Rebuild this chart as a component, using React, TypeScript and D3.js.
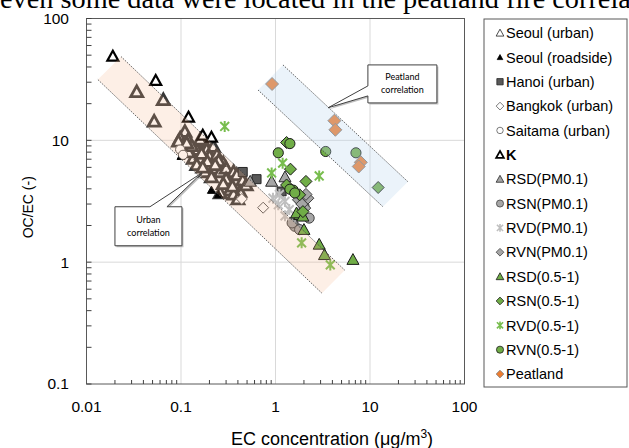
import React from 'react';
import * as d3 from 'd3';

// EC concentration (ug/m3) vs OC/EC ratio, one array per series
const seoulUrban: [number, number][] = [
  [0.034, 25], [0.065, 21.5], [0.052, 14.3],
  [0.110, 11.8], [0.098, 10.4], [0.119, 10.1], [0.106, 9.2], [0.094, 9.8], [0.172, 9.8],
  [0.147, 8.4], [0.187, 8.4], [0.22, 8.9], [0.135, 7.1], [0.159, 7.1], [0.2, 7.4],
  [0.24, 7.6], [0.28, 6.5], [0.147, 6.3], [0.187, 6.1], [0.22, 5.9], [0.18, 5.5],
  [0.26, 5.5], [0.30, 5.9], [0.21, 5.0], [0.36, 5.5], [0.39, 5.2], [0.45, 4.7],
  [0.33, 3.9], [0.42, 3.8], [0.36, 3.6], [0.26, 3.7], [0.49, 4.3], [0.12, 8.0],
  [0.13, 9.0], [0.165, 7.8], [0.19, 6.7], [0.25, 6.8], [0.3, 4.8], [0.28, 4.4],
  [0.35, 4.2], [0.4, 3.3], [0.23, 6.3], [0.17, 6.0], [0.115, 9.5], [0.16, 10.2],
];
const seoulRoadside: [number, number][] = [[0.21, 3.9], [0.25, 3.6], [0.1, 7.4]];
const hanoi: [number, number][] = [[0.45, 5.5], [0.63, 4.8], [1.16, 3.8]];
const bangkok: [number, number][] = [[0.44, 3.3], [0.74, 2.8]];
const saitama: [number, number][] = [[0.098, 8.4], [0.105, 7.6]];
const kSeries: [number, number][] = [[0.019, 49], [0.054, 31], [0.12, 15.5], [0.17, 11], [0.21, 10.6]];
const rsdPm01: [number, number][] = [[0.91, 4.6], [1.26, 5.0], [0.54, 4.6]];
const rsnPm01: [number, number][] = [[2.27, 2.3], [1.6, 1.97], [1.8, 1.85], [1.8, 3.25], [2.0, 2.9], [1.5, 2.1]];
const rvdPm01: [number, number][] = [[0.94, 3.35], [1.26, 3.15], [1.26, 2.4], [1.07, 2.96], [1.4, 2.7], [1.1, 3.6]];
const rvnPm01: [number, number][] = [[1.75, 3.25], [2.2, 3.35], [2.04, 2.78], [1.9, 3.0], [2.1, 3.6]];
const rsd051: [number, number][] = [[1.8, 2.45], [2.0, 1.85], [2.9, 1.4], [3.3, 1.15], [6.6, 1.05], [1.67, 2.53], [1.95, 2.38]];
const rsn051: [number, number][] = [[1.31, 9.6], [1.44, 5.8], [2.1, 4.6], [1.31, 4.3], [1.8, 3.57], [1.95, 2.6], [12.2, 4.1]];
const rvd051: [number, number][] = [[0.29, 13], [1.19, 6.5], [0.91, 5.4], [2.9, 5.1], [1.89, 1.44], [3.8, 0.95]];
const rvn051: [number, number][] = [[1.42, 9.4], [1.07, 7.9], [1.54, 3.9], [1.42, 3.97], [1.6, 3.7], [3.4, 8.1], [7.1, 7.9]];
const peatland: [number, number][] = [[0.92, 29], [4.2, 14.5], [4.3, 12.2], [8.0, 6.6], [7.6, 6.1]];

const xTicks = [0.01, 0.1, 1, 10, 100];
const yTicks = [0.1, 1, 10, 100];
const xTickLabels = ['0.01', '0.1', '1', '10', '100'];
const yTickLabels = ['0.1', '1', '10', '100'];

// correlation bands (corners in data units)
const urbanBand: [number, number][] = [[0.0232, 48.7], [5.4, 0.86], [3.1, 0.556], [0.0132, 31.5]];
const peatBand: [number, number][] = [[1.2, 41.6], [25.2, 4.57], [13.7, 2.85], [0.653, 25.9]];

type Shape = 'tri' | 'circle' | 'diamond' | 'square' | 'star';
interface Series {
  name: string; data: [number, number][]; shape: Shape; fill: string; stroke: string; sw: number; size: number; legSw?: number;
}

const series: Series[] = [
  { name: 'Seoul (urban)', data: seoulUrban, shape: 'tri', fill: '#fff', stroke: '#383838', sw: 2.8, size: 12, legSw: 0.9 },
  { name: 'Seoul (roadside)', data: seoulRoadside, shape: 'tri', fill: '#000', stroke: '#000', sw: 1, size: 8 },
  { name: 'Hanoi (urban)', data: hanoi, shape: 'square', fill: '#595959', stroke: '#262626', sw: 1, size: 9 },
  { name: 'Bangkok (urban)', data: bangkok, shape: 'diamond', fill: '#fff', stroke: '#595959', sw: 1, size: 11 },
  { name: 'Saitama (urban)', data: saitama, shape: 'circle', fill: '#fff', stroke: '#595959', sw: 1, size: 10 },
  { name: 'K', data: kSeries, shape: 'tri', fill: '#fff', stroke: '#000', sw: 2.2, size: 11 },
  { name: 'RSD(PM0.1)', data: rsdPm01, shape: 'tri', fill: '#a6a6a6', stroke: '#262626', sw: 1, size: 12 },
  { name: 'RSN(PM0.1)', data: rsnPm01, shape: 'circle', fill: '#a6a6a6', stroke: '#404040', sw: 1, size: 11 },
  { name: 'RVD(PM0.1)', data: rvdPm01, shape: 'star', fill: 'none', stroke: '#bfbfbf', sw: 2, size: 11 },
  { name: 'RVN(PM0.1)', data: rvnPm01, shape: 'diamond', fill: '#a6a6a6', stroke: '#404040', sw: 1, size: 12 },
  { name: 'RSD(0.5-1)', data: rsd051, shape: 'tri', fill: '#70ad47', stroke: '#1a1a1a', sw: 1, size: 12 },
  { name: 'RSN(0.5-1)', data: rsn051, shape: 'diamond', fill: '#70ad47', stroke: '#1a1a1a', sw: 1, size: 12 },
  { name: 'RVD(0.5-1)', data: rvd051, shape: 'star', fill: 'none', stroke: '#78bd4e', sw: 2, size: 11 },
  { name: 'RVN(0.5-1)', data: rvn051, shape: 'circle', fill: '#70ad47', stroke: '#1a1a1a', sw: 1, size: 11 },
  { name: 'Peatland', data: peatland, shape: 'diamond', fill: '#ed7d31', stroke: '#7f7f7f', sw: 1, size: 13 },
];

function markerPath(shape: Shape, s: number): string {
  const h = s / 2;
  switch (shape) {
    case 'tri': return `M0,${-h}L${h},${h * 0.8}L${-h},${h * 0.8}Z`;
    case 'square': return `M${-h},${-h}H${h}V${h}H${-h}Z`;
    case 'diamond': return `M0,${-h}L${h},0L0,${h}L${-h},0Z`;
    case 'circle': return d3.symbol(d3.symbolCircle, Math.PI * h * h * 0.85)() || '';
    case 'star': {
      const a = h * 0.8;
      return `M${-a},${-a}L${a},${a}M${-a},${a}L${a},${-a}M0,${-h}L0,${h}`;
    }
  }
}

const W = 629;
const H = 448;
const x = d3.scaleLog().domain([0.01, 100]).range([86.5, 464.5]);
const y = d3.scaleLog().domain([0.1, 100]).range([384, 18.5]);

const Marker: React.FC<{ s: Series; cx: number; cy: number; legend?: boolean }> = ({ s, cx, cy, legend }) => (
  <path
    d={markerPath(s.shape, legend ? Math.min(s.size, 11) * 0.7 : s.size)}
    transform={`translate(${cx},${cy})`}
    fill={s.fill}
    stroke={s.stroke}
    strokeWidth={legend ? (s.legSw ?? s.sw * 0.8) : s.sw}
  />
);

function Band({ pts, fill, op }: { pts: [number, number][]; fill: string; op: number }) {
  const p = pts.map(([a, b]) => [x(a), y(b)]);
  return (
    <g>
      <polygon points={p.map((q) => q.join(',')).join(' ')} fill={fill} fillOpacity={op} stroke="none" />
      <line x1={p[0][0]} y1={p[0][1]} x2={p[1][0]} y2={p[1][1]} stroke="#404040" strokeWidth={0.8} strokeDasharray="1.5,1.2" />
      <line x1={p[3][0]} y1={p[3][1]} x2={p[2][0]} y2={p[2][1]} stroke="#404040" strokeWidth={0.8} strokeDasharray="1.5,1.2" />
    </g>
  );
}

export default function App() {
  const left = x.range()[0];
  const right = x.range()[1];
  const top = y.range()[1];
  const bottom = y.range()[0];

  const minorX: number[] = [];
  for (let d = 0.01; d < 100; d *= 10) for (let k = 2; k <= 9; k++) minorX.push(d * k);
  const minorY: number[] = [];
  for (let d = 0.1; d < 100; d *= 10) for (let k = 2; k <= 9; k++) minorY.push(d * k);

  // urban callout
  const ubx = x(0.02), uby = y(2.85), ubw = 67, ubh = 39;
  const utx = x(0.166), uty = y(5.4);
  const urbanPath = `M${ubx},${uby}L${ubx + 35},${uby}L${utx},${uty}L${ubx + 52},${uby}L${ubx + ubw},${uby}L${ubx + ubw},${uby + ubh}L${ubx},${uby + ubh}Z`;
  // peatland callout
  const pbx = x(9.5), pby = y(41.6), pbw = 69, pbh = 38;
  const ptx = x(3.6), pty = y(18.5);
  const peatPath = `M${pbx},${pby}L${pbx + pbw},${pby}L${pbx + pbw},${pby + pbh}L${pbx},${pby + pbh}L${pbx},${pby + 31}L${ptx},${pty}L${pbx},${pby + 21}Z`;

  const legX = 484, legY = 19, legW = 143, legH = 368;

  return (
    <svg width={W} height={H} style={{ position: 'absolute', left: 0, top: 0, background: '#fff' }} fontFamily="'Liberation Sans', Arial, sans-serif">
      <text x={0} y={8} fontFamily="'Liberation Serif', serif" fontSize={28.3} fill="#000">even some data were located in the peatland fire correlation</text>

      {/* gridlines */}
      {xTicks.slice(1, -1).map((t) => (
        <line key={`gx${t}`} x1={x(t)} x2={x(t)} y1={top} y2={bottom} stroke="#d9d9d9" strokeWidth={1} />
      ))}
      {yTicks.slice(1, -1).map((t) => (
        <line key={`gy${t}`} x1={left} x2={right} y1={y(t)} y2={y(t)} stroke="#d9d9d9" strokeWidth={1} />
      ))}

      {/* points */}
      {series.map((s) => (
        <g key={s.name}>
          {s.data.map(([a, b], i) => (
            <Marker key={i} s={s} cx={x(a)} cy={y(b)} />
          ))}
        </g>
      ))}

      {/* correlation bands drawn over points */}
      <Band pts={urbanBand} fill="#f4b183" op={0.2} />
      <Band pts={peatBand} fill="#bdd7ee" op={0.3} />

      {/* frame, ticks */}
      <rect x={left} y={top} width={right - left} height={bottom - top} fill="none" stroke="#595959" strokeWidth={1} />
      {minorX.map((t) => (
        <line key={`mx${t}`} x1={x(t)} x2={x(t)} y1={bottom} y2={bottom - 4} stroke="#404040" />
      ))}
      {minorY.map((t) => (
        <line key={`my${t}`} x1={left} x2={left + 5} y1={y(t)} y2={y(t)} stroke="#404040" />
      ))}
      {yTicks.map((t, i) => (
        <g key={`yt${t}`}>
          <line x1={left} x2={left + 5} y1={y(t)} y2={y(t)} stroke="#404040" />
          <text x={69} y={y(t)} dy="0.35em" textAnchor="end" fontSize={15.5} fill="#000">{yTickLabels[i]}</text>
        </g>
      ))}
      {xTicks.map((t, i) => (
        <text key={`xt${t}`} x={x(t)} y={412} textAnchor="middle" fontSize={15.5} fill="#000">{xTickLabels[i]}</text>
      ))}
      <text x={332} y={445} textAnchor="middle" fontSize={18} fill="#000">
        EC concentration (μg/m<tspan dy={-7} fontSize={12}>3</tspan><tspan dy={7}>)</tspan>
      </text>
      <text transform={`translate(33,${(top + bottom) / 2 + 6}) rotate(-90)`} textAnchor="middle" fontSize={14} fill="#000">OC/EC (-)</text>

      {/* callouts */}
      <path d={urbanPath} transform="translate(1.5,1.5)" fill="#bfbfbf" stroke="none" />
      <path d={urbanPath} fill="#fff" stroke="#404040" strokeWidth={1} />
      <text x={ubx + ubw / 2} y={uby + 16} textAnchor="middle" fontSize={9} fontFamily="Lato, sans-serif" fill="#000">Urban</text>
      <text x={ubx + ubw / 2} y={uby + 29} textAnchor="middle" fontSize={9} fontFamily="Lato, sans-serif" fill="#000">correlation</text>
      <path d={peatPath} transform="translate(1.5,1.5)" fill="#bfbfbf" stroke="none" />
      <path d={peatPath} fill="#fff" stroke="#404040" strokeWidth={1} />
      <text x={pbx + pbw / 2} y={pby + 15} textAnchor="middle" fontSize={9} fontFamily="Lato, sans-serif" fill="#000">Peatland</text>
      <text x={pbx + pbw / 2} y={pby + 28} textAnchor="middle" fontSize={9} fontFamily="Lato, sans-serif" fill="#000">correlation</text>

      {/* legend */}
      <rect x={legX} y={legY} width={legW} height={legH} fill="#fff" stroke="#595959" strokeWidth={1} />
      {series.map((s, i) => {
        const ly = 33 + i * 24.36;
        return (
          <g key={`lg${s.name}`}>
            <Marker s={s} cx={500} cy={ly} legend />
            <text x={506} y={ly} dy="0.36em" fontSize={14.5} fill="#000" fontWeight={s.name === 'K' ? 'bold' : 'normal'}>{s.name}</text>
          </g>
        );
      })}
    </svg>
  );
}
